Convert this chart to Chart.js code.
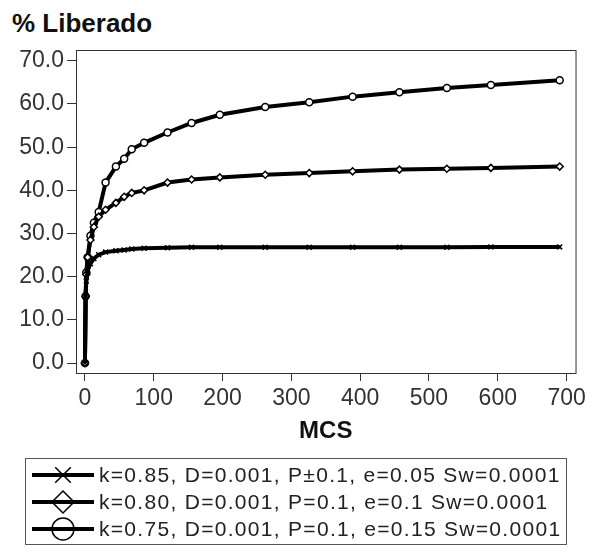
<!DOCTYPE html>
<html>
<head>
<meta charset="utf-8">
<script src="https://cdn.jsdelivr.net/npm/chart.js@4"></script>
<style>
  body { margin: 0; background: #fff; width: 590px; height: 559px; position: relative; overflow: hidden; font-family: "Liberation Sans", Arial, sans-serif; }
  #title { position: absolute; left: 12px; top: 8px; font-size: 26px; font-weight: bold; color: #111; }
  #wrap { position: absolute; left: 0; top: 0; }
  #legend { position: absolute; left: 25px; top: 458px; width: 542px; height: 87px; border: 1px solid #555; box-sizing: border-box; padding-top: 2px; }
  .row { height: 27px; display: flex; align-items: center; }
  .row canvas { margin-left: 4px; }
  .row span { font-size: 21px; color: #222; margin-left: 3px; white-space: nowrap; letter-spacing: 1.3px; }
</style>
</head>
<body>
<div id="title">% Liberado</div>
<div id="wrap"><canvas id="myChart" width="590" height="450"></canvas></div>
<div id="legend"></div>
<script>
// tiempo (MCS)
const mcs = [0, 1, 2, 4, 8, 13, 20, 30, 45, 57, 68, 86, 120, 155, 196, 262, 326, 389, 457, 526, 590, 690];
const serie1 = [0, 15.5, 19.0, 21.5, 23.0, 24.2, 25.1, 25.7, 26.0, 26.2, 26.4, 26.6, 26.7, 26.8, 26.8, 26.8, 26.8, 26.8, 26.8, 26.8, 26.9, 26.9];
const serie2 = [0, 15.5, 20.5, 24.5, 28.5, 31.5, 33.9, 35.5, 37.1, 38.5, 39.4, 40.0, 41.8, 42.5, 43.0, 43.6, 44.0, 44.4, 44.8, 45.0, 45.2, 45.5];
const serie3 = [0, 15.5, 21.0, 24.5, 29.5, 32.5, 35.0, 41.8, 45.5, 47.3, 49.5, 51.0, 53.4, 55.6, 57.5, 59.3, 60.4, 61.7, 62.7, 63.7, 64.4, 65.5];
const labels = [
    'k=0.85, D=0.001, P±0.1, e=0.05 Sw=0.0001',
    'k=0.80, D=0.001, P=0.1, e=0.1 Sw=0.0001',
    'k=0.75, D=0.001, P=0.1, e=0.15 Sw=0.0001'
];
const estilos = ['crossRot', 'rectRot', 'circle'];
const xTicks = [0, 100, 200, 300, 400, 500, 600, 700];
const yTicks = [0, 10, 20, 30, 40, 50, 60, 70];

function toPoints(ys) {
    return mcs.map((x, i) => ({ x: x, y: ys[i] }));
}

const series = [serie1, serie2, serie3];
const datasets = series.map((s, i) => ({
    label: labels[i],
    data: toPoints(s),
    borderColor: '#000',
    backgroundColor: '#fff',
    borderWidth: 4,
    pointStyle: estilos[i],
    pointRadius: 3.5,
    pointBorderWidth: 1.5,
    pointBorderColor: '#000',
    pointBackgroundColor: '#fff',
    tension: 0
}));

// marco alrededor del area
const frame = {
    id: 'frame',
    afterDraw(chart) {
        const a = chart.chartArea;
        const c = chart.ctx;
        c.save();
        c.strokeStyle = '#333';
        c.lineWidth = 1;
        c.strokeRect(a.left + 0.5, a.top + 0.5, a.right - a.left, a.bottom - a.top);
        c.restore();
    }
};

const font = { family: '"Liberation Sans", Arial, sans-serif', size: 23 };

const ctx = document.getElementById('myChart').getContext('2d');
const myChart = new Chart(ctx, {
    type: 'line',
    data: { datasets: datasets },
    options: {
        responsive: false,
        animation: false,
        layout: { padding: { top: 50, right: 13, left: 0, bottom: 0 } },
        plugins: { legend: { display: false }, tooltip: { enabled: false } },
        scales: {
            x: {
                type: 'linear',
                min: -13,
                max: 713,
                afterBuildTicks: (axis) => { axis.ticks = xTicks.map(v => ({ value: v })); },
                afterFit: (axis) => { axis.height = 77; },
                ticks: { font: font, color: '#333', padding: 4, maxRotation: 0 },
                grid: { drawOnChartArea: false, drawTicks: true, tickLength: 8, color: '#333' },
                border: { display: true, color: '#333' },
                title: { display: true, text: 'MCS', font: { family: font.family, size: 24, weight: 'bold' }, color: '#111', padding: { top: 2 } }
            },
            y: {
                type: 'linear',
                min: -2.3,
                max: 72.5,
                afterBuildTicks: (axis) => { axis.ticks = yTicks.map(v => ({ value: v })); },
                afterFit: (axis) => { axis.width = 76; },
                ticks: { font: font, color: '#333', padding: 3, callback: (v) => v.toFixed(1) },
                grid: { drawOnChartArea: false, drawTicks: true, tickLength: 9, color: '#333' },
                border: { display: true, color: '#333' }
            }
        }
    },
    plugins: [frame]
});

// leyenda con linea y marcador
const legend = document.getElementById('legend');
labels.forEach((txt, i) => {
    const row = document.createElement('div');
    row.className = 'row';
    const cv = document.createElement('canvas');
    cv.width = 66; cv.height = 27;
    const c = cv.getContext('2d');
    c.strokeStyle = '#000';
    c.lineWidth = 4;
    c.beginPath(); c.moveTo(2, 14); c.lineTo(64, 14); c.stroke();
    c.lineWidth = 1.5;
    c.fillStyle = 'rgba(0,0,0,0)';
    Chart.helpers.drawPoint(c, { pointStyle: estilos[i], radius: 11, borderWidth: 1.5 }, 33, 14);
    const sp = document.createElement('span');
    sp.textContent = txt;
    row.appendChild(cv);
    row.appendChild(sp);
    legend.appendChild(row);
});
</script>
</body>
</html>
